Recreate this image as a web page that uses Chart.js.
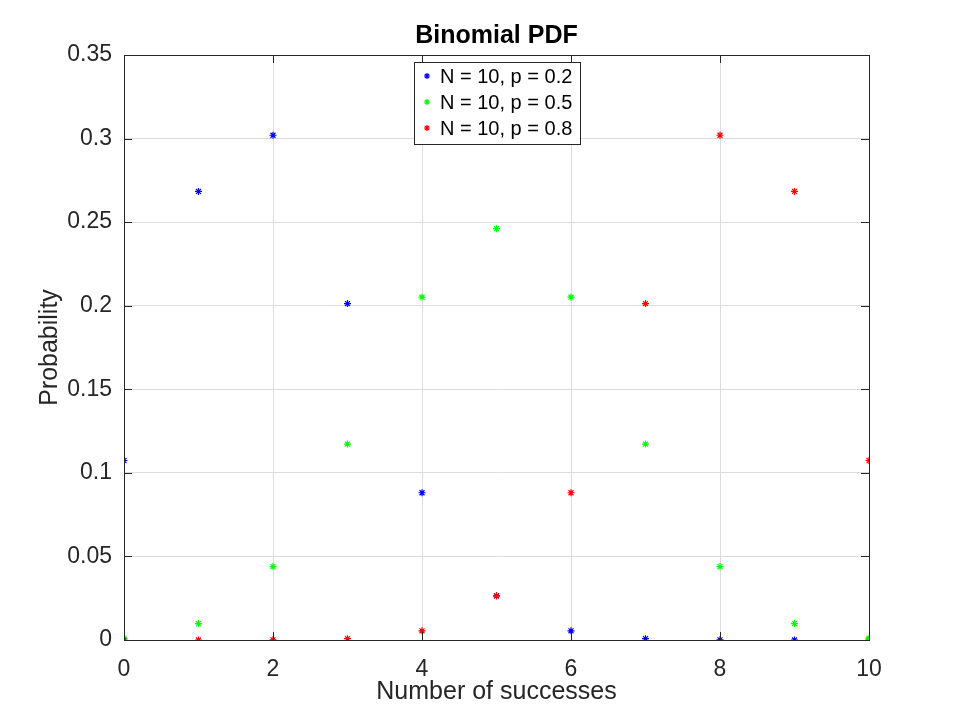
<!DOCTYPE html>
<html>
<head>
<meta charset="utf-8">
<script src="https://cdn.jsdelivr.net/npm/chart.js@4/dist/chart.umd.min.js"></script>
<style>
  body { margin: 0; background: #fff; }
  #wrap { width: 960px; height: 720px; }
</style>
</head>
<body>
<div id="wrap"><canvas id="pdf"></canvas></div>
<script>
// number of successes
var successes = [0, 1, 2, 3, 4, 5, 6, 7, 8, 9, 10];
// probabilities
var probP02 = [0.1074, 0.2684, 0.3020, 0.2013, 0.0881, 0.0264, 0.0055, 0.0008, 0.0001, 0.0000, 0.0000];
var probP05 = [0.0010, 0.0098, 0.0439, 0.1172, 0.2051, 0.2461, 0.2051, 0.1172, 0.0439, 0.0098, 0.0010];
var probP08 = [0.0000, 0.0000, 0.0001, 0.0008, 0.0055, 0.0264, 0.0881, 0.2013, 0.3020, 0.2684, 0.1074];
var seriesNames = ["N = 10, p = 0.2", "N = 10, p = 0.5", "N = 10, p = 0.8"];
var yTicks = [0, 0.05, 0.1, 0.15, 0.2, 0.25, 0.3, 0.35];
var xTicks = [0, 2, 4, 6, 8, 10];
var chartTitle = 'Binomial PDF';

function pts(ys) {
  return successes.map(function(x, i) { return {x: x, y: ys[i]}; });
}

function ds(label, ys, col, ord) {
  return {
    label: label,
    data: pts(ys),
    order: ord,
    showLine: false,
    pointStyle: 'star',
    pointRadius: 3.5,
    pointBorderWidth: 1.2,
    borderColor: col,
    backgroundColor: col
  };
}

var font = "'Liberation Sans', Arial, sans-serif";

function star(c, cx, cy, r) {
  var d = r * 0.72;
  c.beginPath();
  c.moveTo(cx - r, cy); c.lineTo(cx + r, cy);
  c.moveTo(cx, cy - r); c.lineTo(cx, cy + r);
  c.moveTo(cx - d, cy - d); c.lineTo(cx + d, cy + d);
  c.moveTo(cx - d, cy + d); c.lineTo(cx + d, cy - d);
  c.stroke();
}

// title, box, inward ticks and a legend inside the axes
var boxPlugin = {
  id: 'box',
  afterDraw: function(chart) {
    var c = chart.ctx, a = chart.chartArea;
    var xs = chart.scales.x, ys = chart.scales.y;
    c.save();
    c.fillStyle = '#000';
    c.font = 'bold 25px ' + font;
    c.textAlign = 'center';
    c.textBaseline = 'middle';
    c.fillText(chartTitle, (a.left + a.right) / 2, 36);

    c.strokeStyle = '#262626';
    c.lineWidth = 1;
    c.strokeRect(a.left + 0.5, a.top + 0.5, a.right - a.left, a.bottom - a.top);
    c.beginPath();
    xTicks.forEach(function(t) {
      var px = Math.round(xs.getPixelForValue(t)) + 0.5;
      c.moveTo(px, a.bottom); c.lineTo(px, a.bottom - 8);
      c.moveTo(px, a.top); c.lineTo(px, a.top + 8);
    });
    yTicks.forEach(function(t) {
      var py = Math.round(ys.getPixelForValue(t)) + 0.5;
      c.moveTo(a.left, py); c.lineTo(a.left + 8, py);
      c.moveTo(a.right, py); c.lineTo(a.right - 8, py);
    });
    c.stroke();

    // legend
    var lx = 414, ly = 62, lw = 166, lh = 82;
    c.fillStyle = '#fff';
    c.fillRect(lx, ly, lw, lh);
    c.strokeRect(lx + 0.5, ly + 0.5, lw, lh);
    c.font = '20px ' + font;
    c.textAlign = 'left';
    c.textBaseline = 'middle';
    chart.data.datasets.forEach(function(d, i) {
      var yy = ly + 14 + i * 26;
      c.strokeStyle = d.borderColor;
      c.lineWidth = 1.2;
      star(c, lx + 13, yy, 3);
      c.fillStyle = '#000';
      c.fillText(d.label, lx + 26, yy + 1);
    });
    c.restore();
  }
};

new Chart(document.getElementById('pdf'), {
  type: 'scatter',
  data: {
    datasets: [
      ds(seriesNames[0], probP02, '#0000ff', 3),
      ds(seriesNames[1], probP05, '#00ff00', 2),
      ds(seriesNames[2], probP08, '#ff0000', 1)
    ]
  },
  options: {
    responsive: true,
    maintainAspectRatio: false,
    animation: false,
    layout: { padding: { top: 55, right: 91, bottom: 0, left: 0 } },
    plugins: {
      legend: { display: false },
      tooltip: { enabled: false }
    },
    scales: {
      x: {
        type: 'linear',
        min: 0, max: 10,
        afterBuildTicks: function(s) { s.ticks = xTicks.map(function(v) { return {value: v}; }); },
        afterFit: function(s) { s.height = 80; },
        grid: { color: '#dcdcdc', drawTicks: false },
        border: { display: false },
        ticks: { color: '#262626', font: { family: font, size: 23 }, padding: 16, maxRotation: 0 },
        title: {
          display: true, text: 'Number of successes', color: '#262626',
          font: { family: font, size: 25 }, padding: { top: 0, bottom: 13 }
        }
      },
      y: {
        min: 0, max: 0.35,
        afterBuildTicks: function(s) { s.ticks = yTicks.map(function(v) { return {value: v}; }); },
        afterFit: function(s) { s.width = 124; },
        grid: { color: '#dcdcdc', drawTicks: false },
        border: { display: false },
        ticks: {
          color: '#262626', font: { family: font, size: 23 }, padding: 12,
          callback: function(v) { return String(Math.round(v * 100) / 100); }
        },
        title: {
          display: true, text: 'Probability', color: '#262626',
          font: { family: font, size: 25 }, padding: { top: 35, bottom: 0 }
        }
      }
    }
  },
  plugins: [boxPlugin]
});
</script>
</body>
</html>
